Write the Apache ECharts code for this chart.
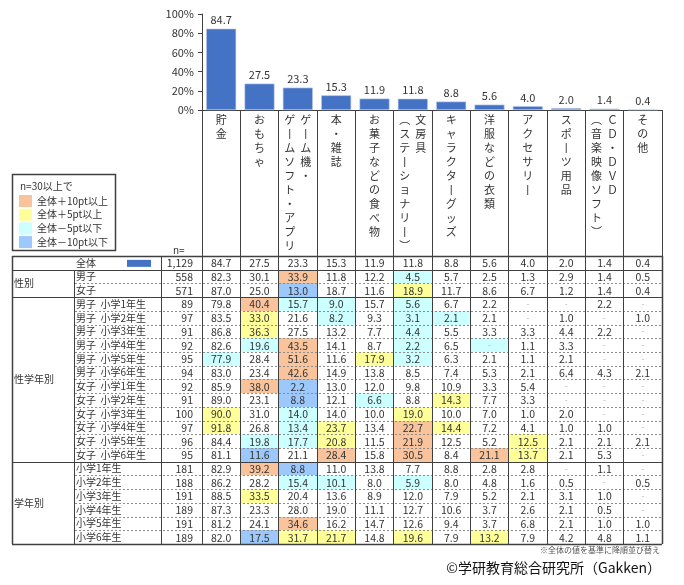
<!DOCTYPE html>
<html>
<head>
<meta charset="utf-8">
<title>お年玉の使い道</title>
<script src="https://cdn.jsdelivr.net/npm/echarts@6.0.0/dist/echarts.min.js"></script>
<style>
  html, body { margin: 0; padding: 0; background: #fff; }
  #chart { width: 684px; height: 585px; }
</style>
</head>
<body>
<div id="chart"></div>
<script>
// Columns, sorted by 全体 descending
const categories = [
    '貯金', 'おもちゃ', 'ゲーム機・ゲームソフト・アプリ', '本・雑誌', 'お菓子などの食べ物',
    '文房具（ステーショナリー）', 'キャラクターグッズ', '洋服などの衣類', 'アクセサリー',
    'スポーツ用品', 'CD・DVD（音楽映像ソフト）', 'その他'
];
// where the vertical header wraps to a second column (0 = one column)
const headerBreaks = [0, 0, 5, 0, 0, 3, 0, 0, 0, 0, 6, 0];

const rowLabels = [
    '全体', '男子', '女子',
    '男子　小学1年生', '男子　小学2年生', '男子　小学3年生', '男子　小学4年生', '男子　小学5年生', '男子　小学6年生',
    '女子　小学1年生', '女子　小学2年生', '女子　小学3年生', '女子　小学4年生', '女子　小学5年生', '女子　小学6年生',
    '小学1年生', '小学2年生', '小学3年生', '小学4年生', '小学5年生', '小学6年生'
];
const rowN = [1129, 558, 571, 89, 97, 91, 92, 95, 94, 92, 91, 100, 97, 96, 95, 181, 188, 191, 189, 191, 189];
const groups = [
    { name: '性別', from: 1, to: 2 },
    { name: '性学年別', from: 3, to: 14 },
    { name: '学年別', from: 15, to: 20 }
];

// % per row, null = '-'
const tableValues = [
    [84.7, 27.5, 23.3, 15.3, 11.9, 11.8, 8.8, 5.6, 4.0, 2.0, 1.4, 0.4],
    [82.3, 30.1, 33.9, 11.8, 12.2, 4.5, 5.7, 2.5, 1.3, 2.9, 1.4, 0.5],
    [87.0, 25.0, 13.0, 18.7, 11.6, 18.9, 11.7, 8.6, 6.7, 1.2, 1.4, 0.4],
    [79.8, 40.4, 15.7, 9.0, 15.7, 5.6, 6.7, 2.2, null, null, 2.2, null],
    [83.5, 33.0, 21.6, 8.2, 9.3, 3.1, 2.1, 2.1, null, 1.0, null, 1.0],
    [86.8, 36.3, 27.5, 13.2, 7.7, 4.4, 5.5, 3.3, 3.3, 4.4, 2.2, null],
    [82.6, 19.6, 43.5, 14.1, 8.7, 2.2, 6.5, null, 1.1, 3.3, null, null],
    [77.9, 28.4, 51.6, 11.6, 17.9, 3.2, 6.3, 2.1, 1.1, 2.1, null, null],
    [83.0, 23.4, 42.6, 14.9, 13.8, 8.5, 7.4, 5.3, 2.1, 6.4, 4.3, 2.1],
    [85.9, 38.0, 2.2, 13.0, 12.0, 9.8, 10.9, 3.3, 5.4, null, null, null],
    [89.0, 23.1, 8.8, 12.1, 6.6, 8.8, 14.3, 7.7, 3.3, null, null, null],
    [90.0, 31.0, 14.0, 14.0, 10.0, 19.0, 10.0, 7.0, 1.0, 2.0, null, null],
    [91.8, 26.8, 13.4, 23.7, 13.4, 22.7, 14.4, 7.2, 4.1, 1.0, 1.0, null],
    [84.4, 19.8, 17.7, 20.8, 11.5, 21.9, 12.5, 5.2, 12.5, 2.1, 2.1, 2.1],
    [81.1, 11.6, 21.1, 28.4, 15.8, 30.5, 8.4, 21.1, 13.7, 2.1, 5.3, null],
    [82.9, 39.2, 8.8, 11.0, 13.8, 7.7, 8.8, 2.8, 2.8, null, 1.1, null],
    [86.2, 28.2, 15.4, 10.1, 8.0, 5.9, 8.0, 4.8, 1.6, 0.5, null, 0.5],
    [88.5, 33.5, 20.4, 13.6, 8.9, 12.0, 7.9, 5.2, 2.1, 3.1, 1.0, null],
    [87.3, 23.3, 28.0, 19.0, 11.1, 12.7, 10.6, 3.7, 2.6, 2.1, 0.5, null],
    [81.2, 24.1, 34.6, 16.2, 14.7, 12.6, 9.4, 3.7, 6.8, 2.1, 1.0, 1.0],
    [82.0, 17.5, 31.7, 21.7, 14.8, 19.6, 7.9, 13.2, 7.9, 4.2, 4.8, 1.1]
];
const totalShares = tableValues[0];

const legendLabels = ['全体＋10pt以上', '全体＋5pt以上', '全体－5pt以下', '全体－10pt以下'];

// Styles
const FONT = '"Noto Sans CJK JP", sans-serif';
const TEXT = '#333333';
const LINE = '#404040';
const DASH = '#8c8c8c';
const BAR_BLUE = '#4472c4';
const FILLS = ['#f9c39b', '#ffff99', '#ccffff', '#9dc8fb'];

// left-side table columns (group / label / n)
const TABLE_LEFT = 12, LABEL_LEFT = 74, N_LEFT = 161;

function crisp(v) { return Math.round(v - 0.5) + 0.5; }

function cellFill(r, c) {
    if (r === 0 || rowN[r] < 30) return null;
    const v = tableValues[r][c] == null ? 0 : tableValues[r][c];
    const diff = Math.round((v - totalShares[c]) * 10) / 10;
    if (diff >= 10) return FILLS[0];
    if (diff >= 5) return FILLS[1];
    if (diff <= -10) return FILLS[3];
    if (diff <= -5) return FILLS[2];
    return null;
}

// Vertical header text: long vowel mark / brackets swapped for upright forms
function toVerticalChar(ch) {
    const code = ch.charCodeAt(0);
    if (code === 0x30fc || code === 0x2015 || code === 0x2014 || code === 0xff0d) return '\u4e28';
    if (code === 0xff08 || code === 0x28) return '\ufe35';
    if (code === 0xff09 || code === 0x29) return '\ufe36';
    if (code > 0x20 && code < 0x7f) return String.fromCharCode(code + 0xfee0);
    return ch;
}
function verticalLabel(name) {
    const cut = headerBreaks[categories.indexOf(name)];
    const chars = Array.from(name).map(toVerticalChar);
    if (!cut) return chars.join('\n');
    const right = chars.slice(0, cut), left = chars.slice(cut);
    const rows = [];
    for (let i = 0; i < Math.max(left.length, right.length); i++) {
        rows.push((left[i] || '\u3000') + '  ' + (right[i] || '\u3000'));
    }
    return rows.join('\n');
}

function textEl(text, x, y, align, size, color) {
    return {
        type: 'text',
        style: {
            text: text, x: x, y: y,
            font: size + 'px ' + FONT,
            fill: color || TEXT,
            align: align, textAlign: align,
            verticalAlign: 'middle', textVerticalAlign: 'middle'
        }
    };
}
function lineEl(x1, y1, x2, y2, stroke, width, dash) {
    return {
        type: 'line',
        shape: { x1: x1, y1: y1, x2: x2, y2: y2 },
        style: { stroke: stroke, lineWidth: width, lineDash: dash || null }
    };
}

// One table cell: fill + value
function renderCell(params, api) {
    const c = api.value(0), r = api.value(1);
    const p = api.coord([c, r]);
    const s = api.size([1, 1]);
    const x1 = Math.round(p[0] - s[0] / 2), x2 = Math.round(p[0] + s[0] / 2);
    const y1 = Math.round(p[1] - s[1] / 2), y2 = Math.round(p[1] + s[1] / 2);
    const v = tableValues[r][c];
    const fill = cellFill(r, c);
    const children = [];
    if (fill) {
        children.push({ type: 'rect', shape: { x: x1, y: y1, width: x2 - x1, height: y2 - y1 }, style: { fill: fill } });
    }
    if (v == null) children.push(textEl('-', p[0], p[1], 'center', 8, '#aaaaaa'));
    else children.push(textEl(v.toFixed(1), p[0], p[1] + 0.5, 'center', 10.5));
    return { type: 'group', children: children };
}

// One table row: label, n and the grid lines
function renderRow(params, api) {
    const r = api.value(1);
    const cs = params.coordSys;
    const center = api.coord([0, r]);
    const h = api.size([1, 1])[1];
    const top = Math.round(center[1] - h / 2), bottom = Math.round(center[1] + h / 2);
    const right = cs.x + cs.width;
    const colW = cs.width / categories.length;
    const lastRows = groups.map(g => g.to).concat([0]);
    const children = [];

    const xs = [N_LEFT];
    if (r > 0) xs.push(LABEL_LEFT);
    for (let k = 0; k < categories.length; k++) xs.push(cs.x + k * colW);
    xs.forEach(x => children.push(lineEl(crisp(x), top, crisp(x), bottom, LINE, 1)));
    children.push(lineEl(crisp(TABLE_LEFT), top, crisp(TABLE_LEFT), bottom, LINE, 1.5));
    children.push(lineEl(crisp(right), top, crisp(right), bottom, LINE, 1.5));

    if (r === 0) children.push(lineEl(TABLE_LEFT, crisp(top), right, crisp(top), LINE, 1.5));
    if (r === rowLabels.length - 1) {
        children.push(lineEl(TABLE_LEFT, crisp(bottom), right, crisp(bottom), LINE, 1.5));
    } else if (lastRows.indexOf(r) >= 0) {
        children.push(lineEl(TABLE_LEFT, crisp(bottom), right, crisp(bottom), LINE, 1.2));
    } else {
        children.push(lineEl(LABEL_LEFT + 1, crisp(bottom), right, crisp(bottom), DASH, 1, [2, 2]));
    }

    // narrower gap between 男子/女子 and the grade, as in the source table
    const label = rowLabels[r].replace('\u3000', '  ');
    children.push(textEl(label, LABEL_LEFT + 2, center[1], 'left', 10));
    children.push(textEl(rowN[r].toLocaleString('en-US'), cs.x - 9, center[1] + 0.5, 'right', 10.5));
    if (r === 0) {
        children.push({ type: 'rect', shape: { x: 127, y: center[1] - 3, width: 24, height: 7 }, style: { fill: BAR_BLUE } });
    }
    return { type: 'group', children: children };
}

function renderGroup(params, api) {
    const g = groups[api.value(2)];
    const h = api.size([1, 1])[1];
    const yTop = api.coord([0, g.from])[1] - h / 2;
    const yBottom = api.coord([0, g.to])[1] + h / 2;
    return textEl(g.name, TABLE_LEFT + 2, (yTop + yBottom) / 2, 'left', 10);
}

const cellData = [];
tableValues.forEach((row, r) => row.forEach((v, c) => cellData.push([c, r])));

const chart = echarts.init(document.getElementById('chart'));

const legendGraphics = [
    { type: 'rect', shape: { x: 12.5, y: 174.5, width: 103, height: 76 }, style: { fill: '#fff', stroke: LINE, lineWidth: 1.5 } },
    textEl('n=30以上で', 20, 186, 'left', 10)
];
legendLabels.forEach((label, i) => {
    const y = 201 + i * 13.7;
    legendGraphics.push({ type: 'rect', shape: { x: 19, y: y - 6, width: 13, height: 12 }, style: { fill: FILLS[i] } });
    legendGraphics.push(textEl(label, 37, y, 'left', 10));
});

const option = {
    animation: false,
    backgroundColor: '#ffffff',
    textStyle: { fontFamily: FONT },
    grid: [
        { left: 202, right: 22, top: 14, height: 96, outerBoundsMode: 'none' },
        { left: 202, right: 22, top: 256, height: 288, outerBoundsMode: 'none' }
    ],
    xAxis: [
        {
            type: 'category',
            gridIndex: 0,
            data: categories,
            axisLine: { show: true, lineStyle: { color: LINE, width: 1 } },
            axisTick: { show: true, interval: 0, length: 146, lineStyle: { color: LINE, width: 1 } },
            axisLabel: {
                interval: 0,
                margin: 3,
                color: TEXT,
                fontFamily: FONT,
                fontSize: 11,
                lineHeight: 14,
                verticalAlign: 'top',
                formatter: verticalLabel
            },
            splitLine: { show: false }
        },
        { type: 'category', gridIndex: 1, data: categories, show: false }
    ],
    yAxis: [
        {
            type: 'value',
            gridIndex: 0,
            min: 0, max: 100, interval: 20,
            axisLine: { show: true, lineStyle: { color: LINE, width: 1 } },
            axisTick: { show: true, length: 4, lineStyle: { color: LINE } },
            axisLabel: { formatter: '{value}%', color: TEXT, fontSize: 11, fontFamily: FONT, margin: 8 },
            splitLine: { show: false }
        },
        { type: 'category', gridIndex: 1, data: rowLabels, inverse: true, show: false }
    ],
    series: [
        {
            name: '全体',
            type: 'bar',
            xAxisIndex: 0, yAxisIndex: 0,
            data: totalShares,
            barWidth: 30,
            itemStyle: { color: BAR_BLUE, borderColor: '#bccbea', borderWidth: 0.6 },
            label: {
                show: true, position: 'top', distance: 3,
                color: TEXT, fontSize: 11, fontFamily: FONT,
                formatter: p => p.value.toFixed(1)
            }
        },
        {
            type: 'custom', name: 'cells',
            xAxisIndex: 1, yAxisIndex: 1,
            renderItem: renderCell,
            data: cellData,
            z: 2
        },
        {
            type: 'custom', name: 'rows',
            xAxisIndex: 1, yAxisIndex: 1,
            renderItem: renderRow,
            data: rowLabels.map((l, r) => [0, r]),
            z: 3
        },
        {
            type: 'custom', name: 'groups',
            xAxisIndex: 1, yAxisIndex: 1,
            renderItem: renderGroup,
            data: groups.map((g, i) => [0, g.from, i]),
            z: 3
        }
    ],
    graphic: legendGraphics.concat([
        textEl('n=', 173, 250, 'left', 10),
        textEl('※全体の値を基準に降順並び替え', 660, 550, 'right', 8, '#555555'),
        textEl('©学研教育総合研究所（Gakken）', 661, 568, 'right', 14, '#111111')
    ])
};

chart.setOption(option);
</script>
</body>
</html>
